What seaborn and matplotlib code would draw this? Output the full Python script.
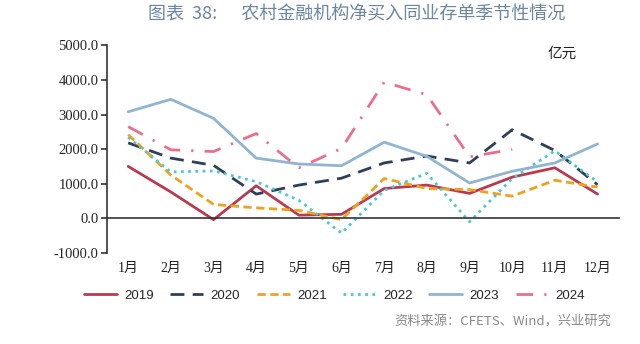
import matplotlib
matplotlib.use("Agg")
import matplotlib.pyplot as plt
import matplotlib.transforms as mtransforms
import seaborn as sns
import pandas as pd

# Monthly net purchases of interbank CDs by rural financial institutions (亿元)
months = ["1月", "2月", "3月", "4月", "5月", "6月", "7月", "8月", "9月", "10月", "11月", "12月"]
y2019 = [1500, 760, -40, 940, 90, 115, 860, 960, 720, 1190, 1460, 700]
y2020 = [2180, 1740, 1530, 700, 960, 1160, 1600, 1800, 1600, 2560, 1960, 970]
y2021 = [2420, 1250, 400, 300, 230, -40, 1150, 860, 830, 640, 1100, 900]
y2022 = [2340, 1340, 1370, 1060, 520, -430, 810, 1300, -100, 1150, 1950, 1050]
y2023 = [3080, 3440, 2890, 1740, 1570, 1520, 2200, 1790, 1020, 1360, 1600, 2150]
y2024 = [2650, 1980, 1930, 2450, 1460, 2020, 3940, 3570, 1780, 1990]

series = {"2019": y2019, "2020": y2020, "2021": y2021,
          "2022": y2022, "2023": y2023, "2024": y2024}

rows = []
for year, vals in series.items():
    for i, v in enumerate(vals):
        rows.append({"month": i, "value": v, "year": year})
df = pd.DataFrame(rows)

palette = {"2019": "#B93A4F", "2020": "#2F3E5A", "2021": "#EFA21E",
           "2022": "#4CC8CF", "2023": "#8FB5D3", "2024": "#E8708C"}
dashes = {"2019": "", "2020": (5, 3), "2021": (3, 1.6),
          "2022": (1, 1.6), "2023": "", "2024": (6, 4, 0.8, 4)}

sns.set_theme(style="white")
plt.rcParams["font.family"] = ["Liberation Serif", "Noto Sans CJK SC"]

fig = plt.figure(figsize=(6.4, 3.44), dpi=100)
ax = fig.add_axes([0.167, 0.265, 0.8, 0.603])

sns.lineplot(data=df, x="month", y="value", hue="year", style="year",
             palette=palette, dashes=dashes, linewidth=2.0, ax=ax,
             legend=True)

ax.set_xlim(-0.5, 11.5)
ax.set_ylim(-1000, 5000)
ax.set_yticks(range(-1000, 5001, 1000))
ax.set_yticklabels([f"{v:.1f}" for v in range(-1000, 5001, 1000)],
                   fontsize=10.5, family="Liberation Serif")
ax.set_xlabel("")
ax.set_ylabel("")

# category axis sits on zero, with tick marks on the month boundaries
ax.spines["bottom"].set_position(("data", 0))
ax.spines["top"].set_visible(False)
ax.spines["right"].set_visible(False)
for s in ("left", "bottom"):
    ax.spines[s].set_color("#333333")
    ax.spines[s].set_linewidth(1.2)
ax.set_xticks([i + 0.5 for i in range(12)])
ax.set_xticklabels([])
ax.tick_params(axis="x", direction="out", length=4, width=1.2, color="#333333")
ax.tick_params(axis="y", direction="out", length=4, width=1.2, color="#333333",
               left=True, pad=2)

trans = mtransforms.blended_transform_factory(ax.transData, ax.transAxes)
for i, m in enumerate(months):
    ax.text(i, -0.075, m, transform=trans, ha="center", va="center",
            fontsize=10, family=["Liberation Serif", "Noto Sans CJK SC"],
            color="#222222")

ax.text(0.89, 0.962, "亿元", transform=ax.transAxes, ha="center", va="center",
        fontsize=10.5, family="Noto Sans CJK SC", color="#222222")

handles, labels = ax.get_legend_handles_labels()
ax.get_legend().remove()
fig.legend(handles, labels, loc="center", bbox_to_anchor=(0.523, 0.14),
           ncol=6, frameon=False, handlelength=2.5, columnspacing=1.25,
           handletextpad=0.55, prop={"family": "Liberation Sans", "size": 9.5})

fig.text(0.558, 0.958, "图表  38:      农村金融机构净买入同业存单季节性情况",
         ha="center", va="center", fontsize=13, color="#6A86A3",
         family="Noto Sans CJK SC")
fig.text(0.955, 0.065, "资料来源：CFETS、Wind，兴业研究", ha="right", va="center",
         fontsize=9.5, color="#8A8A8A", family="Noto Sans CJK SC")

fig.savefig("out.png", dpi=100)
